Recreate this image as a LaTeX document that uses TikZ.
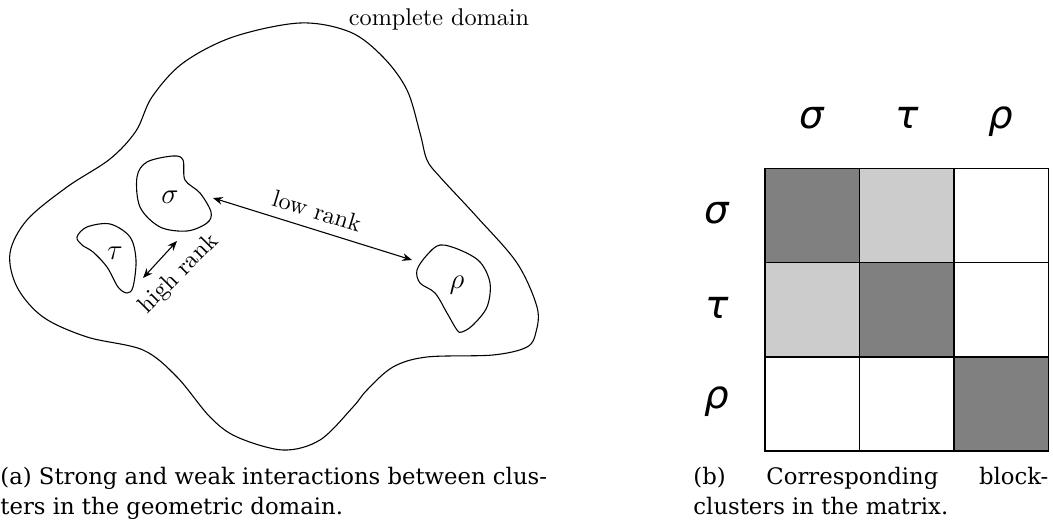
\documentclass[tikz,border=0pt]{standalone}
\usepackage{fontspec}
\newfontfamily\capfont{DejaVu Serif}
\newfontfamily\grkfont{DejaVu Sans}
\usetikzlibrary{arrows.meta}
\begin{document}
\begin{tikzpicture}[x=0.4133pt,y=-0.4133pt,
  curve/.style={line width=0.45pt},
  lbl/.style={inner sep=0pt},
  arr/.style={line width=0.45pt,{Stealth[length=4pt,width=3.2pt]}-{Stealth[length=4pt,width=3.2pt]}},
  captxt/.style={inner sep=0pt,anchor=base west,font=\capfont\fontsize{9.4}{12.4}\selectfont},
  mlab/.style={inner sep=0pt,anchor=base,font=\grkfont\itshape\fontsize{16}{16}\selectfont},
  darkcell/.style={fill=black!50},
  lightcell/.style={fill=black!20},
  gridln/.style={line width=0.45pt}]
\useasboundingbox (0,0) rectangle (1053,521);

% complete domain
\draw[curve] plot[smooth cycle,tension=0.55] coordinates {(136,131) (152,97) (183,63) (233,37) (300,23) (350,32) (383,57) (407,90) (420,133) (427,160) (440,177) (477,217) (517,263) (537,307) (536,332) (527,347) (493,355) (427,357) (393,367) (367,390) (353,407) (320,440) (283,450) (237,437) (210,417) (177,377) (143,350) (87,337) (43,317) (17,287) (10,253) (27,220) (67,187) (110,159)};

% clusters
\draw[curve] plot[smooth cycle,tension=0.55] coordinates {(137,177) (147,162) (173,156) (183,160) (185,180) (200,193) (211,212) (207,223) (187,231) (160,227) (140,207)};
\draw[curve] plot[smooth cycle,tension=0.55] coordinates {(77,237) (87,227) (110,224) (130,237) (136,260) (133,287) (127,293) (118,287) (107,267) (93,252) (82,245)};
\draw[curve] plot[smooth cycle,tension=0.55] coordinates {(440,245) (460,250) (480,262) (490,283) (487,307) (473,325) (462,332) (457,330) (447,313) (435,293) (420,283) (417,270) (427,255)};

\node[lbl,font=\large] (sig) at (170,197) {$\sigma$};
\node[lbl,font=\large] (tau) at (115,253) {$\tau$};
\node[lbl,font=\large] (rho) at (457,285) {$\rho$};
\node[lbl,anchor=base] (cd) at (439,26) {complete domain};

\coordinate (lrA) at (213,198);
\coordinate (lrB) at (412,260);
\draw[arr] (lrA) -- (lrB);
\node[lbl,rotate=-17] (lr) at (317,211) {low rank};

\coordinate (hrA) at (143,278);
\coordinate (hrB) at (177,241);
\draw[arr] (hrA) -- (hrB);
\node[lbl,rotate=45] (hr) at (179,274) {high rank};

% matrix
\fill[darkcell] (765,168.3) rectangle (859.7,262.7);
\fill[lightcell] (859.7,168.3) rectangle (954,262.7);
\fill[lightcell] (765,262.7) rectangle (859.7,357);
\fill[darkcell] (859.7,262.7) rectangle (954,357);
\fill[darkcell] (954,357) rectangle (1048.3,451);
\draw[gridln] (765,168.3) rectangle (1048.3,451);
\draw[gridln] (859.7,168.3) -- (859.7,451);
\draw[gridln] (954,168.3) -- (954,451);
\draw[gridln] (765,262.7) -- (1048.3,262.7);
\draw[gridln] (765,357) -- (1048.3,357);

\node[mlab] (c1) at (812,128.3) {σ};
\node[mlab] (c2) at (906.8,128.3) {τ};
\node[mlab] (c3) at (1001.2,128.3) {ρ};
\node[mlab] (r1) at (716.7,223.3) {σ};
\node[mlab] (r2) at (716.7,318.3) {τ};
\node[mlab] (r3) at (716.7,408.3) {ρ};

% captions
\node[captxt] (capa1) at (0,485) {(a) Strong and weak interactions between clus-};
\node[captxt] (capa2) at (0,515) {ters in the geometric domain.};
\node[captxt] (capb1) at (693,485) {\makebox[146.7pt]{(b)\hfill Corresponding\hfill block-}};
\node[captxt] (capb2) at (693,515) {clusters in the matrix.};
\end{tikzpicture}
\end{document}
